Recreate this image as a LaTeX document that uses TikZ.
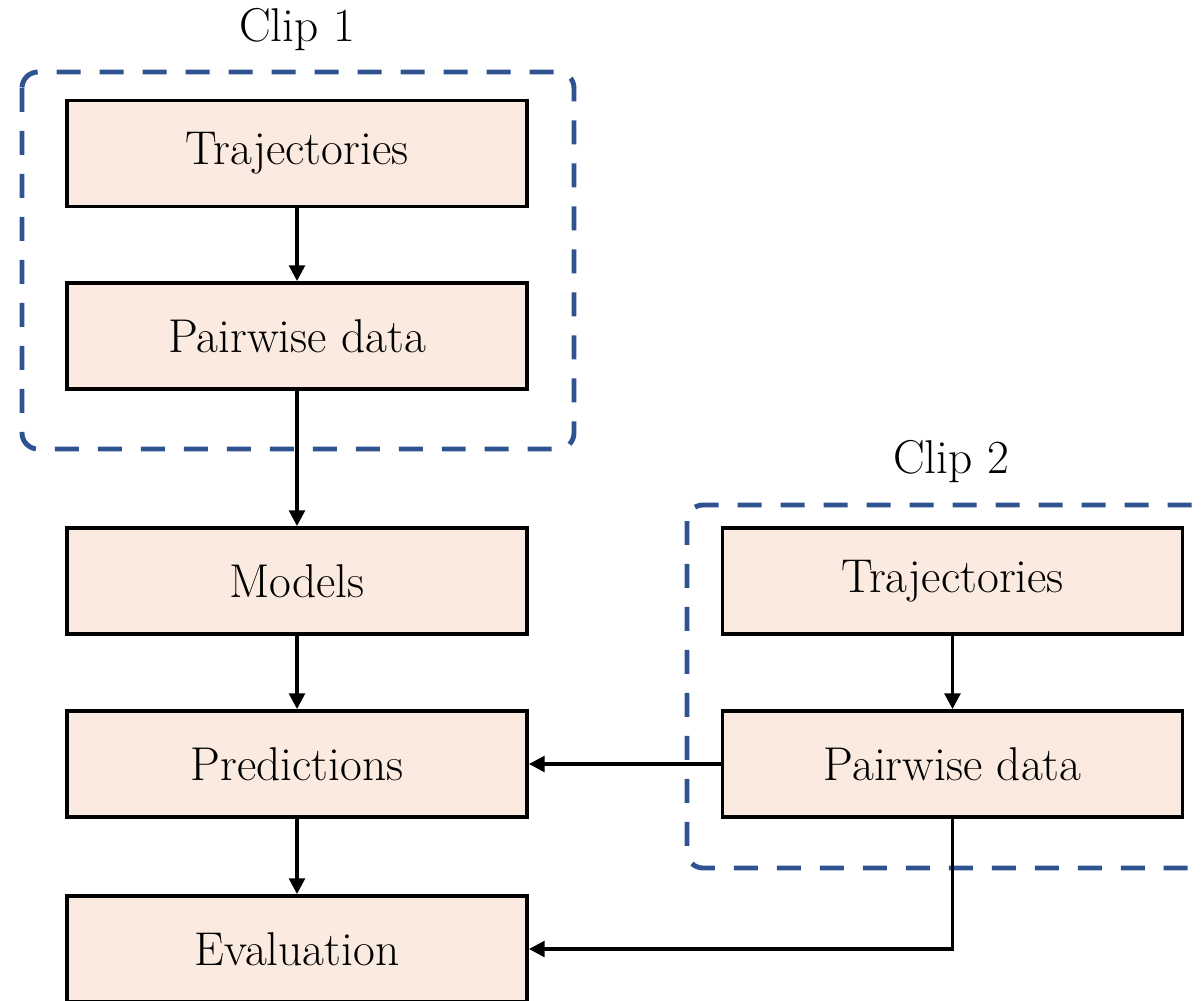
\documentclass[tikz,border=0pt]{standalone}
\usetikzlibrary{arrows.meta}
\definecolor{boxfill}{HTML}{FBEAE0}
\definecolor{clipblue}{HTML}{2F5291}
\tikzset{
  stage/.style={draw=black, fill=boxfill, line width=2.2pt, minimum width=9.2cm,
    minimum height=2.12cm, inner sep=0pt, font=\fontsize{27}{32}\selectfont},
  flow/.style={line width=1.9pt, -{Triangle[length=9pt,width=9pt]}},
  clipframe/.style={draw=clipblue, line width=2.8pt, dash pattern=on 0.48cm off 0.38cm,
    rounded corners=0.32cm},
  cliplabel/.style={font=\fontsize{27}{32}\selectfont},
}
\begin{document}
\begin{tikzpicture}[x=0.02cm, y=-0.02cm]
\useasboundingbox (0,0) rectangle (1204,1001);
\clip (0,0) rectangle (1204,1001);
% clip groupings
\draw[clipframe] (22,72) rectangle (574,449);
\draw[clipframe] (687,505) rectangle (1218,868);
\node[cliplabel] (lab1) at (297,30) {Clip 1};
\node[cliplabel] (lab2) at (951,462) {Clip 2};
% left column
\node[stage] (traj1) at (297,153.5) {Trajectories};
\node[stage] (pair1) at (297,336) {Pairwise data};
\node[stage] (models) at (297,581) {Models};
\node[stage] (pred) at (297,764) {Predictions};
\node[stage] (eval) at (297,949) {Evaluation};
% right column
\node[stage] (traj2) at (952.5,581) {Trajectories};
\node[stage] (pair2) at (952.5,764) {Pairwise data};
% connectors
\draw[flow] (traj1) -- (pair1);
\draw[flow] (pair1) -- (models);
\draw[flow] (models) -- (pred);
\draw[flow] (pred) -- (eval);
\draw[flow] (traj2) -- (pair2);
\draw[flow] (pair2.west) -- (pred.east);
\draw[flow] (pair2.south) |- (eval.east);
\end{tikzpicture}
\end{document}
